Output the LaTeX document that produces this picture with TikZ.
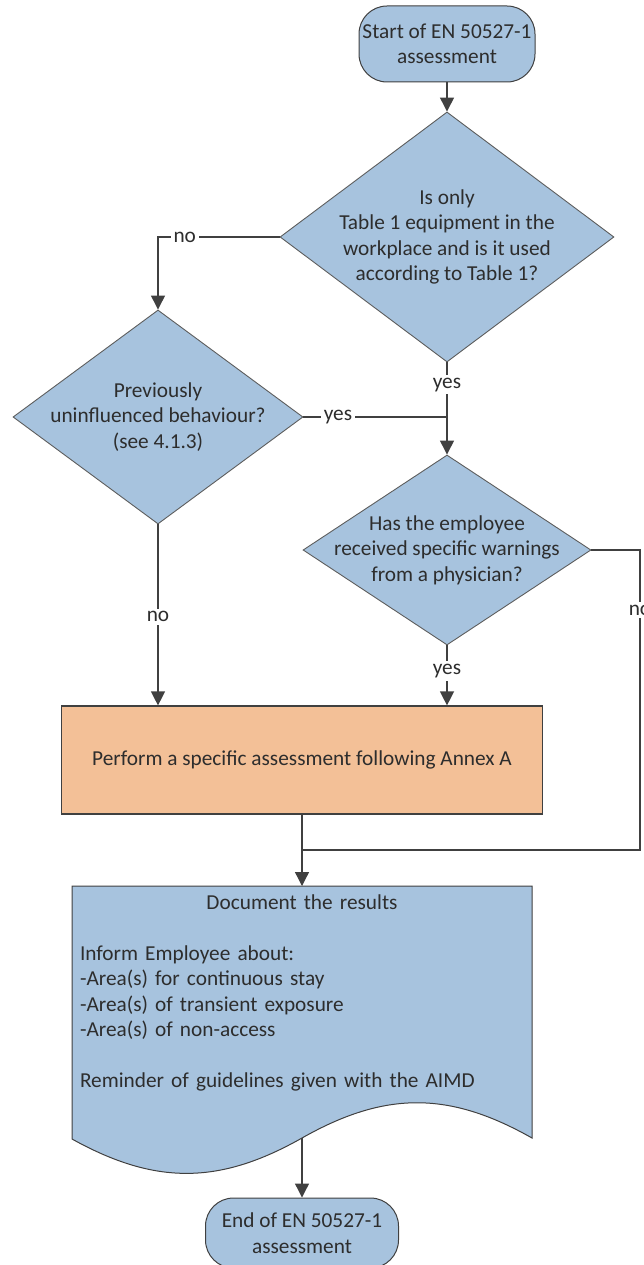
\documentclass[tikz,border=0pt]{standalone}
\usepackage{fontspec}
\setmainfont{Carlito}
\usepackage{xcolor}
\usetikzlibrary{positioning,shapes.geometric,arrows.meta}

\definecolor{boxblue}{RGB}{167,195,222}
\definecolor{boxorange}{RGB}{243,192,151}
\definecolor{linegray}{RGB}{64,64,64}
\definecolor{textgray}{RGB}{45,45,45}

\begin{document}
\begin{tikzpicture}
    [
      x=1pt, y=-1pt,
      font=\fontsize{21.3}{25.5}\selectfont, text=textgray,
      every node/.style = {align=center},
      term/.style = {rectangle, rounded corners=28pt, draw=linegray, fill=boxblue, line width=1pt},
      decide/.style = {diamond, draw=linegray!85, fill=boxblue, inner sep=-40pt, line width=0.9pt},
      actbox/.style = {rectangle, draw=linegray, fill=boxorange, line width=1.2pt},
      lbl/.style = {fill=white, inner sep=3pt},
      flow/.style = {draw=linegray, line width=1.3pt, -{Triangle[width=14pt,length=14pt]}},
      link/.style = {draw=linegray, line width=1.3pt}
    ]

    \useasboundingbox (0,0) rectangle (644,1265);

    % nodes
    \node[term, minimum width=176pt, minimum height=76pt] (start) at (447,44)
      {Start of EN 50527-1\\assessment};
    \node[decide, minimum width=334pt, minimum height=250pt] (q1) at (447,237)
      {Is only\\Table 1 equipment in the\\workplace and is it used\\according to Table 1?};
    \node[decide, minimum width=290pt, minimum height=214pt] (q2) at (158,417)
      {Previously\\uninfluenced behaviour?\\(see 4.1.3)};
    \node[decide, minimum width=288pt, minimum height=190pt] (q3) at (447,550)
      {Has the employee\\received specific warnings\\from a physician?};
    \node[actbox, minimum width=481pt, minimum height=108pt] (assess) at (302,760)
      {Perform a specific assessment following Annex A};

    % document shape with wavy bottom
    \path[draw=linegray, fill=boxblue, line width=1pt]
      (72,886) -- (532,886) -- (532,1138)
      .. controls (449,1091) and (385,1091) .. (302,1138)
      .. controls (219,1185) and (155,1185) .. (72,1139) -- cycle;
    \coordinate (doctop) at (302,886);
    \coordinate (docwave) at (302,1138);
    \node[text width=444pt, align=left, inner sep=0pt] (doc) at (302,993)
      {\makebox[444pt]{Document the results}\\[25.5pt]
       Inform Employee about:\\
       -Area(s) for continuous stay\\
       -Area(s) of transient exposure\\
       -Area(s) of non-access\\[25.5pt]
       Reminder of guidelines given with the AIMD};

    \node[term, minimum width=193pt, minimum height=70pt] (stop) at (302,1233)
      {End of EN 50527-1\\assessment};

    % connectors
    \coordinate (merge) at (302,850);
    \coordinate (rgt) at (640,850);

    \draw[flow] (start.south) -- (q1.north);
    \draw[flow] (q1.west) -| node[lbl, pos=0.39]{no} (q2.north);
    \draw[flow] (q1.south) -- node[lbl, pos=0.24]{yes} (q3.north);
    \draw[link] (q2.east) -- node[lbl, pos=0.24]{yes} (q2.east -| q3.north);
    \draw[flow] (q2.south) -- node[lbl, pos=0.51]{no} (q2.south |- assess.north);
    \draw[flow] (q3.south) -- node[lbl, pos=0.42]{yes} (q3.south |- assess.north);
    \draw[link] (q3.east) -| node[lbl, pos=0.6]{no} (rgt) -- (merge);
    \draw[flow] (assess.south) -- (doctop);
    \draw[flow] (docwave) -- (stop.north);
\end{tikzpicture}
\end{document}
